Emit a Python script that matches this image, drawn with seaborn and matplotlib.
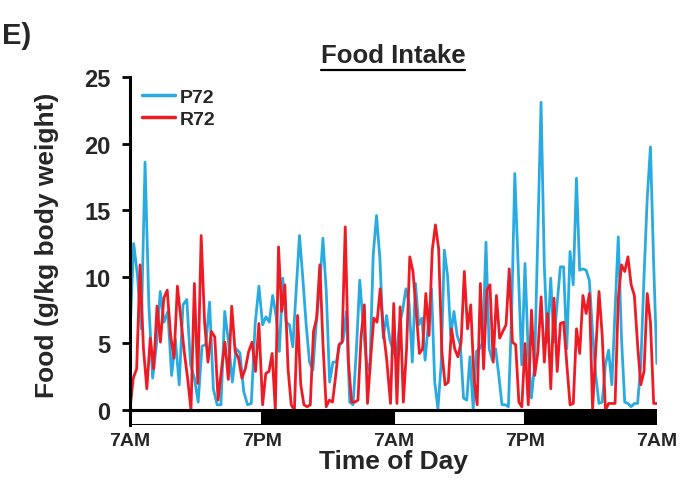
import numpy as np
import pandas as pd
import matplotlib
matplotlib.use("Agg")
import matplotlib.pyplot as plt
from matplotlib.patches import Rectangle
from matplotlib.lines import Line2D
import seaborn as sns

# food intake, in four stretches of the 48 h record
p72_parts = [
    [5.6, 12.5, 10.1, 6.1, 18.6, 7.9, 2.4, 4.9, 8.9, 6.6, 7.4, 2.6, 5.3, 1.9, 7.9, 8.3, 3.4, 2.4,
     0.6, 4.8, 4.9, 8.1, 1.6, 0.4, 0.4, 7.4, 5.1, 2.1, 4.6, 4.3, 1.4, 0.4, 0.5, 6.4, 9.3],
    [6.4, 7.0, 6.6, 8.6, 7.1, 4.4, 9.9, 6.6, 6.4, 4.75, 8.9, 13.1, 9.9, 6.4, 3.6, 3.0, 6.5, 9.1,
     12.9, 8.9, 2.1, 3.6, 3.6, 4.9, 5.2, 7.4, 0.6, 0.4, 4.6, 9.75, 6.4, 3.6, 2.9, 11.6, 14.6, 11.4,
     5.4, 7.1],
    [5.25, 4.5, 3.9, 6.4, 7.5, 9.1, 8.0, 3.6, 9.5, 6.4, 6.9, 3.75, 6.5, 9.1, 2.1, 0.1, 3.4, 12.0,
     10.1, 5.6, 7.4, 5.6, 4.9, 0.9, 0.75, 4.0, 0.1, 4.4, 4.6, 5.1, 12.6, 4.6, 3.75, 4.6, 2.6, 0.4,
     0.4, 0.25, 7.1, 17.75],
    [10.1, 3.4, 11.0, 4.4, 0.9, 3.4, 13.1, 23.1, 10.9, 5.1, 9.9, 5.1, 8.0, 10.75, 10.75, 4.6, 11.9,
     9.4, 17.4, 10.5, 10.6, 10.5, 9.75, 5.9, 2.6, 0.5, 0.6, 3.4, 4.5, 1.9, 7.4, 13.0, 5.4, 0.6, 0.5,
     0.25, 0.5, 0.5, 3.4, 10.0, 15.9, 19.75, 11.0, 3.5],
]
r72_parts = [
    [0.0, 2.4, 3.1, 10.9, 4.6, 1.6, 5.4, 3.1, 7.8, 5.1, 8.4, 9.0, 5.6, 3.9, 9.3, 6.9, 4.4, 2.4, 0.0,
     9.5, 2.0, 13.1, 6.6, 3.6, 5.9, 5.5, 0.75, 3.1, 5.1, 2.3, 7.8, 4.4, 3.9, 2.4, 3.1, 4.4, 5.1, 2.9,
     6.5],
    [0.4, 2.75, 2.9, 4.25, 0.0, 12.25, 7.4, 9.4, 3.1, 0.4, 0.0, 7.1, 1.9, 0.4, 0.25, 0.4, 5.9, 6.9,
     10.9, 4.9, 0.25, 0.75, 0.6, 2.6, 4.9, 5.1, 13.75, 3.6, 0.6, 0.6, 0.75, 5.6, 7.9, 0.5, 3.9, 6.9,
     6.6, 9.1, 5.9, 3.9],
    [0.5, 8.0, 0.5, 7.75, 0.6, 4.6, 11.5, 10.4, 7.4, 4.25, 4.6, 8.75, 5.6, 12.0, 13.9, 12.1, 4.4,
     1.9, 2.1, 6.1, 4.6, 4.0, 5.1, 10.4, 6.1, 7.9, 2.4, 0.4, 9.5, 3.1, 9.0, 9.4, 3.6, 8.6, 5.4, 5.9,
     6.4, 10.6, 5.1, 4.9, 0.6],
    [0.25, 5.0, 0.4, 7.5, 2.6, 4.4, 8.5, 3.6, 7.25, 1.6, 8.4, 2.9, 6.5, 6.6, 3.4, 0.4, 0.5, 6.1,
     4.25, 8.6, 7.25, 8.75, 0.1, 4.5, 8.9, 5.6, 0.0, 0.5, 0.5, 0.5, 8.4, 10.9, 10.4, 11.5, 9.4, 8.6,
     4.9, 1.9, 2.9, 8.75, 6.6, 0.5, 0.5],
]
# hours since 7AM where each stretch starts and ends
p72_spans = [(0.0, 11.75), (12.09, 23.38), (23.68, 35.06), (35.4, 48.0)]
r72_spans = [(0.0, 11.75), (12.09, 23.38), (23.74, 35.43), (35.7, 48.0)]

tick_hours = [0, 12, 24, 36, 48]
tick_labels = ["7AM", "7PM", "7AM", "7PM", "7AM"]
dark_periods = [(12, 24), (36, 48)]
light_periods = [(0, 12), (24, 36)]


def build(parts, spans, name):
    hours = np.concatenate([np.linspace(a, b, len(p)) for p, (a, b) in zip(parts, spans)])
    vals = np.concatenate([np.array(p) for p in parts])
    return pd.DataFrame({"Hour": hours, "Food": vals, "Group": name})


df = pd.concat([build(p72_parts, p72_spans, "P72"), build(r72_parts, r72_spans, "R72")])

sns.set_theme(style="ticks")
plt.rcParams["font.family"] = ["Liberation Sans", "DejaVu Sans"]
plt.rcParams["font.weight"] = "bold"

fig = plt.figure(figsize=(6.8, 4.81), dpi=100)
ax = fig.add_axes([0.191, 0.114, 0.775, 0.724])

sns.lineplot(data=df, x="Hour", y="Food", hue="Group", palette={"P72": "#29ABE2", "R72": "#ED1C24"},
             linewidth=2.0, ax=ax, estimator=None, sort=False)

ax.set_xlim(0, 48)
ax.set_ylim(-1.13, 25)
ax.set_yticks([0, 5, 10, 15, 20, 25])
ax.set_xticks(tick_hours)
ax.set_xticklabels(tick_labels)
ax.tick_params(axis="x", length=0, labelsize=14, pad=5)
ax.tick_params(axis="y", length=6, width=2, labelsize=17, pad=8, color="black")
for lab in ax.get_xticklabels() + ax.get_yticklabels():
    lab.set_fontweight("bold")

for s in ["top", "right", "bottom"]:
    ax.spines[s].set_visible(False)
ax.spines["left"].set_linewidth(2.2)
ax.spines["left"].set_color("black")

# light/dark bar under the zero line
for a, b in dark_periods:
    ax.add_patch(Rectangle((a, -1.13), b - a, 1.13, facecolor="black", edgecolor="black", lw=0, zorder=3))
for a, b in light_periods:
    ax.add_patch(Rectangle((a, -1.13), b - a, 1.13, facecolor="white", edgecolor="black", lw=2.2, zorder=3))
ax.axhline(0, color="black", lw=2.2, zorder=4)

ax.set_xlabel("Time of Day", fontsize=19, fontweight="bold", labelpad=0)
ax.set_ylabel("Food (g/kg body weight)", fontsize=19, fontweight="bold")
ax.yaxis.set_label_coords(-0.135, 0.52)

leg = ax.legend(loc="upper left", bbox_to_anchor=(0.0, 1.0), frameon=False, fontsize=14,
                handlelength=1.7, handletextpad=0.25, labelspacing=0.2, borderaxespad=0.2)
for t in leg.get_texts():
    t.set_fontweight("bold")
for h in leg.get_lines():
    h.set_linewidth(2.5)

title = fig.text(0.578, 0.868, "Food Intake", ha="center", va="baseline", fontsize=18.5, fontweight="bold")
fig.text(0.003, 0.908, "E)", ha="left", va="baseline", fontsize=21, fontweight="bold")

fig.canvas.draw()
bb = title.get_window_extent().transformed(fig.transFigure.inverted())
fig.add_artist(Line2D([bb.x0, bb.x1], [bb.y0 - 0.006, bb.y0 - 0.006], color="black", lw=1.6))

fig.savefig("out.png", dpi=100)
